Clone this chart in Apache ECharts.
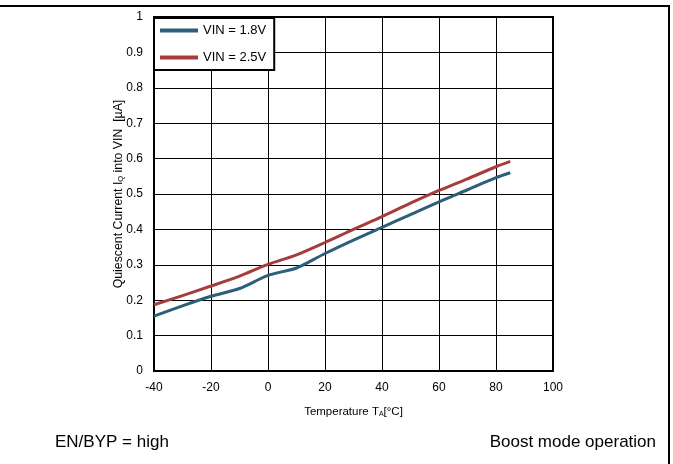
<!DOCTYPE html>
<html><head><meta charset="utf-8">
<script src="https://cdn.jsdelivr.net/npm/echarts@6/dist/echarts.min.js"></script>
<style>html,body{margin:0;padding:0;background:#fff}#c{width:673px;height:464px}</style>
</head><body><div id="c"></div>
<script>
const temps = [-40, -30, -20, -10, 0, 10, 20, 30, 40, 50, 60, 70, 80, 85];
const vin18 = [0.155, 0.184, 0.211, 0.233, 0.270, 0.291, 0.332, 0.370, 0.406, 0.442, 0.478, 0.512, 0.546, 0.560];
const vin25 = [0.187, 0.213, 0.240, 0.268, 0.301, 0.328, 0.363, 0.400, 0.436, 0.474, 0.510, 0.543, 0.577, 0.592];
const xTicks = [-40, -20, 0, 20, 40, 60, 80, 100];
const yTicks = [0, 0.1, 0.2, 0.3, 0.4, 0.5, 0.6, 0.7, 0.8, 0.9, 1];
const seriesNames = ['VIN = 1.8V', 'VIN = 2.5V'];
const colors = ['#2b5f7a', '#a63c3c'];

const chart = echarts.init(document.getElementById('c'), null, {renderer: 'canvas'});
const font = 'Liberation Sans, Arial, sans-serif';
chart.setOption({
  animation: false,
  textStyle: {fontFamily: font},
  grid: {left: 154, right: 120, top: 17, bottom: 93, containLabel: false,
         show: true, borderColor: '#000', borderWidth: 2, backgroundColor: 'transparent', z: 3},
  legend: {
    left: 154, top: 18, orient: 'vertical', itemGap: 14,
    backgroundColor: '#fff', borderColor: '#000', borderWidth: 2, borderRadius: 0,
    padding: [6, 8, 6, 6], itemWidth: 38, itemHeight: 4,
    textStyle: {fontSize: 13, color: '#000', fontFamily: font},
    icon: 'rect',
    data: seriesNames
  },
  xAxis: {
    type: 'value', min: xTicks[0], max: xTicks[xTicks.length - 1], interval: xTicks[1] - xTicks[0],
    axisLine: {show: true, onZero: false, lineStyle: {color: '#000', width: 2}},
    axisTick: {show: false},
    splitLine: {show: true, lineStyle: {color: '#000', width: 1}},
    axisLabel: {color: '#000', fontSize: 12, margin: 11, fontFamily: font},
    name: '{a|Temperature T}{s|A}{a|[°C]}',
    nameLocation: 'middle', nameGap: 33, nameMoveOverlap: false,
    nameTextStyle: {rich: {
      a: {fontSize: 11.5, color: '#000', fontFamily: font, verticalAlign: 'bottom', lineHeight: 14},
      s: {fontSize: 7, color: '#000', fontFamily: font, verticalAlign: 'bottom', lineHeight: 11}
    }}
  },
  yAxis: {
    type: 'value', min: yTicks[0], max: yTicks[yTicks.length - 1], interval: 0.1,
    axisLine: {show: true, onZero: false, lineStyle: {color: '#000', width: 2}},
    axisTick: {show: false},
    splitLine: {show: true, lineStyle: {color: '#000', width: 1}},
    axisLabel: {color: '#000', fontSize: 12, margin: 11, fontFamily: font,
      formatter: v => String(Math.round(v * 10) / 10)},
    name: '{a|Quiescent Current I}{s|Q}{a| into VIN  [µA]}',
    nameLocation: 'middle', nameGap: 29, nameMoveOverlap: false,
    nameTextStyle: {rich: {
      a: {fontSize: 12.3, color: '#000', fontFamily: font, verticalAlign: 'bottom', lineHeight: 15},
      s: {fontSize: 7.5, color: '#000', fontFamily: font, verticalAlign: 'bottom', lineHeight: 12}
    }}
  },
  series: [
    {name: seriesNames[0], type: 'line', data: temps.map((t, i) => [t, vin18[i]]),
     smooth: 0.3, showSymbol: false, lineStyle: {width: 3, color: colors[0]}, itemStyle: {color: colors[0]}, z: 5},
    {name: seriesNames[1], type: 'line', data: temps.map((t, i) => [t, vin25[i]]),
     smooth: 0.3, showSymbol: false, lineStyle: {width: 3, color: colors[1]}, itemStyle: {color: colors[1]}, z: 5}
  ],
  graphic: [
    {type: 'line', shape: {x1: 0, y1: 6, x2: 670, y2: 6}, style: {stroke: '#000', lineWidth: 2}},
    {type: 'line', shape: {x1: 669, y1: 6, x2: 669, y2: 464}, style: {stroke: '#000', lineWidth: 2}},
    {type: 'text', left: 55, top: 434, style: {text: 'EN/BYP = high', fontSize: 17, fill: '#000', fontFamily: font}},
    {type: 'text', right: 17, top: 434, style: {text: 'Boost mode operation', fontSize: 17, fill: '#000', fontFamily: font}}
  ]
});
</script></body></html>
